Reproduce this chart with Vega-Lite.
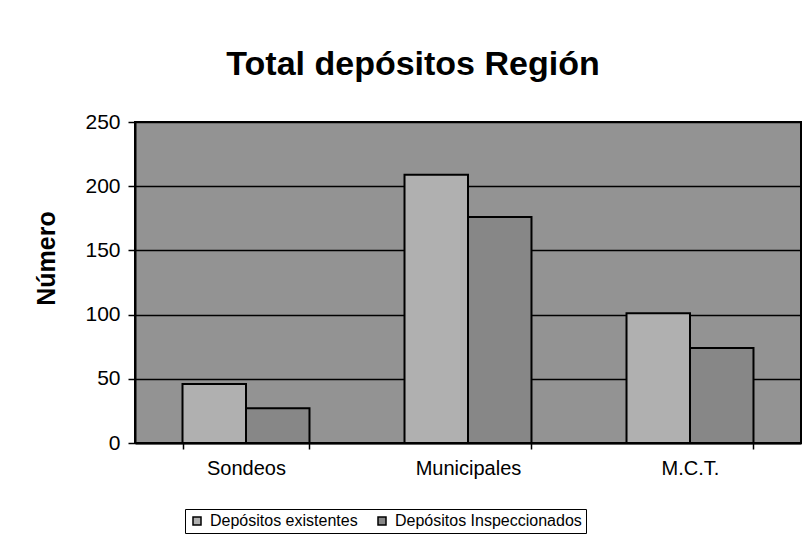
{
  "$schema": "https://vega.github.io/schema/vega-lite/v6.json",
  "width": 666,
  "height": 321,
  "autosize": {"type": "none"},
  "padding": {"left": 135, "top": 122, "right": 5, "bottom": 99},
  "background": "white",
  "title": {
    "text": "Total depósitos Región",
    "fontSize": 34,
    "fontWeight": "bold",
    "font": "Liberation Sans",
    "color": "black",
    "anchor": "middle",
    "frame": "group",
    "dx": -55,
    "baseline": "alphabetic",
    "offset": 2
  },
  "data": {
    "values": [
      {"categoria": "Sondeos", "serie": "Depósitos existentes", "valor": 46},
      {"categoria": "Sondeos", "serie": "Depósitos Inspeccionados", "valor": 27},
      {"categoria": "Municipales", "serie": "Depósitos existentes", "valor": 209},
      {"categoria": "Municipales", "serie": "Depósitos Inspeccionados", "valor": 176},
      {"categoria": "M.C.T.", "serie": "Depósitos existentes", "valor": 101},
      {"categoria": "M.C.T.", "serie": "Depósitos Inspeccionados", "valor": 74}
    ]
  },
  "mark": {"type": "bar", "stroke": "black", "strokeWidth": 2},
  "encoding": {
    "x": {
      "field": "categoria",
      "type": "nominal",
      "sort": ["Sondeos", "Municipales", "M.C.T."],
      "scale": {"paddingInner": 0.428, "paddingOuter": 0.214},
      "axis": {
        "title": null,
        "labelAngle": 0,
        "labelFontSize": 20,
        "labelFont": "Liberation Sans",
        "labelColor": "black",
        "labelPadding": 9,
        "tickBand": "extent",
        "tickSize": 6,
        "tickColor": "black",
        "tickWidth": 1.5,
        "domainColor": "black",
        "domainWidth": 2
      }
    },
    "xOffset": {
      "field": "serie",
      "type": "nominal",
      "sort": ["Depósitos existentes", "Depósitos Inspeccionados"],
      "scale": {"paddingInner": 0, "paddingOuter": 0}
    },
    "y": {
      "field": "valor",
      "type": "quantitative",
      "scale": {"domain": [0, 250], "nice": false},
      "axis": {
        "title": "Número",
        "titleFontSize": 25,
        "titleFont": "Liberation Sans",
        "titleFontWeight": "bold",
        "titleColor": "black",
        "titleAngle": -90,
        "titleX": -89,
        "titleY": 136,
        "titleAlign": "center",
        "titleBaseline": "middle",
        "values": [0, 50, 100, 150, 200, 250],
        "labelFontSize": 21,
        "labelFont": "Liberation Sans",
        "labelColor": "black",
        "labelPadding": 8,
        "tickSize": 7,
        "tickColor": "black",
        "tickWidth": 1.5,
        "domainColor": "black",
        "domainWidth": 2,
        "grid": true,
        "gridColor": "black",
        "gridWidth": 1.5,
        "gridOpacity": 1
      }
    },
    "color": {
      "field": "serie",
      "type": "nominal",
      "sort": ["Depósitos existentes", "Depósitos Inspeccionados"],
      "scale": {
        "domain": ["Depósitos existentes", "Depósitos Inspeccionados"],
        "range": ["#b0b0b0", "#878787"]
      },
      "legend": {
        "title": null,
        "orient": "none",
        "legendX": 50,
        "legendY": 387,
        "direction": "horizontal",
        "strokeColor": "black",
        "fillColor": "white",
        "padding": 4,
        "symbolType": "square",
        "symbolSize": 64,
        "symbolStrokeColor": "black",
        "symbolStrokeWidth": 1.5,
        "symbolOpacity": 1,
        "labelFontSize": 16,
        "labelFont": "Liberation Sans",
        "labelColor": "black",
        "labelLimit": 400,
        "columnPadding": 16,
        "labelOffset": 5
      }
    }
  },
  "config": {
    "view": {"stroke": "black", "strokeWidth": 2, "fill": "#939393"},
    "font": "Liberation Sans"
  }
}
